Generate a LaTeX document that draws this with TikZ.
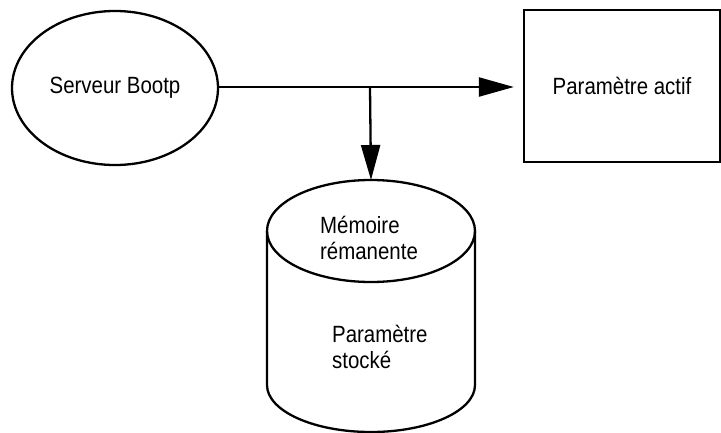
\documentclass[tikz,border=0pt]{standalone}
\usepackage{fontspec}
\setmainfont[FakeStretch=0.87]{Liberation Sans}
\usetikzlibrary{arrows.meta,shapes.geometric}

\begin{document}
\begin{tikzpicture}
  [x=1pt,y=-1pt,line width=2.3pt,
   every node/.style={font=\fontsize{23.5}{26}\selectfont,inner sep=0pt},
   flow/.style={-{Triangle[length=35pt,width=19pt]}}]
  \useasboundingbox (0,0) rectangle (721,432);

  \node[ellipse,draw,minimum width=206pt,minimum height=154pt] (boot) at (115,88) {Serveur Bootp};
  \node[rectangle,draw,minimum width=196pt,minimum height=152pt] (actif) at (622,86) {Param\`etre actif};

  % cylinder
  \draw (267,231) -- (267,385) arc[start angle=180,end angle=0,x radius=104,y radius=47] -- (475,231);
  \draw (371,231) ellipse [x radius=104,y radius=51];
  \coordinate (memtop) at (371,180);
  \node[anchor=west,align=left] (nvram) at (319,238) {M\'emoire\\r\'emanente};
  \node[anchor=west,align=left] (stock) at (331,347) {Param\`etre\\stock\'e};

  \coordinate (split) at (370,87);
  \draw[flow,shorten >=9pt] (boot.east |- split) -- (actif.west |- split);
  \draw[flow] (split) -- (memtop);
\end{tikzpicture}
\end{document}
